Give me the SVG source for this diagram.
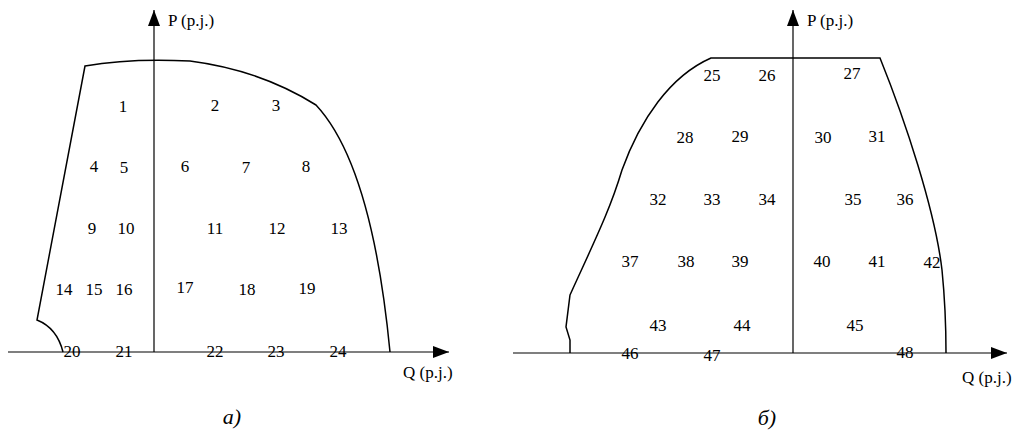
<svg xmlns="http://www.w3.org/2000/svg" width="1013" height="432" viewBox="0 0 1013 432">
<defs>
<marker id="arr" markerWidth="16" markerHeight="12" refX="16" refY="6" orient="auto" markerUnits="userSpaceOnUse">
<path d="M0,0 L16,6 L0,12 Z" fill="#000"/>
</marker>
<style>
.ax{stroke:#000;stroke-width:1.2;fill:none}
.bd{stroke:#000;stroke-width:1.5;fill:none}
text{font-family:"Liberation Serif","Times New Roman",serif;font-size:17px;fill:#000}
.n{text-anchor:middle}
.cap{font-size:22px;font-style:italic;text-anchor:middle}
</style>
</defs>
<rect width="1013" height="432" fill="#fff"/>
<g id="connectors">
<line class="ax" x1="154" y1="352" x2="154" y2="10" marker-end="url(#arr)"/>
<line class="ax" x1="8" y1="352" x2="449" y2="352" marker-end="url(#arr)"/>
<line class="ax" x1="793" y1="353" x2="793" y2="10" marker-end="url(#arr)"/>
<line class="ax" x1="513" y1="353" x2="1007" y2="353" marker-end="url(#arr)"/>
</g>
<g id="region-a">
<path class="bd" d="M63,352 Q57,328 37,320 L85,66 Q130,58 190,61 Q260,70 316,105 Q372,165 390,352"/>
</g>
<g id="region-b">
<path class="bd" d="M570,353 L570,340 L566,327 L570,295 C595,240 610,210 622,170 C640,120 670,76 711,58 L880,58 C905,120 935,210 942,270 Q946,310 946,353"/>
</g>
<g id="labels-a">
<text x="168" y="26">P (p.j.)</text>
<text x="403" y="378">Q (p.j.)</text>
<text class="n" x="123" y="112">1</text>
<text class="n" x="215" y="111">2</text>
<text class="n" x="276" y="111">3</text>
<text class="n" x="94" y="172">4</text>
<text class="n" x="124" y="173">5</text>
<text class="n" x="185" y="172">6</text>
<text class="n" x="246" y="173">7</text>
<text class="n" x="306" y="172">8</text>
<text class="n" x="92" y="234">9</text>
<text class="n" x="126" y="234">10</text>
<text class="n" x="215" y="234">11</text>
<text class="n" x="277" y="234">12</text>
<text class="n" x="339" y="234">13</text>
<text class="n" x="64" y="295">14</text>
<text class="n" x="94" y="295">15</text>
<text class="n" x="124" y="295">16</text>
<text class="n" x="185" y="293">17</text>
<text class="n" x="247" y="295">18</text>
<text class="n" x="307" y="294">19</text>
<text class="n" x="72" y="357">20</text>
<text class="n" x="124" y="357">21</text>
<text class="n" x="215" y="357">22</text>
<text class="n" x="276" y="357">23</text>
<text class="n" x="338" y="357">24</text>
<text class="cap" x="232" y="424">a)</text>
</g>
<g id="labels-b">
<text x="807" y="26">P (p.j.)</text>
<text x="962" y="383">Q (p.j.)</text>
<text class="n" x="712" y="81">25</text>
<text class="n" x="767" y="81">26</text>
<text class="n" x="852" y="79">27</text>
<text class="n" x="685" y="143">28</text>
<text class="n" x="740" y="142">29</text>
<text class="n" x="823" y="143">30</text>
<text class="n" x="877" y="142">31</text>
<text class="n" x="658" y="205">32</text>
<text class="n" x="712" y="205">33</text>
<text class="n" x="767" y="205">34</text>
<text class="n" x="853" y="205">35</text>
<text class="n" x="905" y="205">36</text>
<text class="n" x="630" y="267">37</text>
<text class="n" x="686" y="267">38</text>
<text class="n" x="740" y="267">39</text>
<text class="n" x="822" y="267">40</text>
<text class="n" x="877" y="267">41</text>
<text class="n" x="932" y="268">42</text>
<text class="n" x="658" y="331">43</text>
<text class="n" x="742" y="331">44</text>
<text class="n" x="855" y="331">45</text>
<text class="n" x="630" y="359">46</text>
<text class="n" x="712" y="361">47</text>
<text class="n" x="905" y="358">48</text>
<text class="cap" x="767" y="425">б)</text>
</g>
</svg>
